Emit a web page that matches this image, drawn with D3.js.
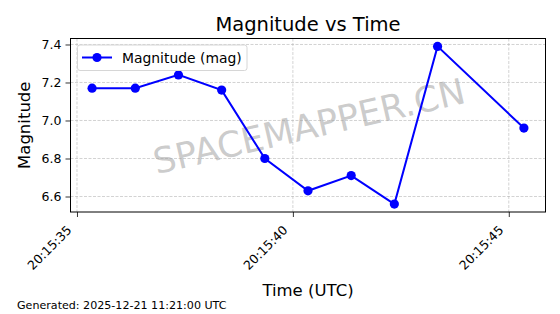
<!DOCTYPE html>
<html>
<head>
<meta charset="utf-8">
<script src="https://cdn.jsdelivr.net/npm/d3@7"></script>
<style>
  html, body { margin: 0; padding: 0; background: #fff; }
  svg { display: block; font-family: "DejaVu Sans", sans-serif; }
</style>
</head>
<body>
<svg id="chart" width="560" height="314"></svg>
<script>
// Data: seconds after 20:15:00 UTC, and magnitude values
const timeSeconds = [35.35, 36.35, 37.35, 38.35, 39.35, 40.35, 41.35, 42.35, 43.35, 45.35];
const magnitudes  = [7.17, 7.17, 7.24, 7.16, 6.80, 6.63, 6.71, 6.56, 7.39, 6.96];
const xTickSeconds = [35, 40, 45];
const xTickLabels = ["20:15:35", "20:15:40", "20:15:45"];
const yTicks = [6.6, 6.8, 7.0, 7.2, 7.4];
const titleText = "Magnitude vs Time";
const xLabelText = "Time (UTC)";
const yLabelText = "Magnitude";
const legendText = "Magnitude (mag)";
const footerText = "Generated: 2025-12-21 11:21:00 UTC";
const watermarkText = "SPACEMAPPER.CN";

const svg = d3.select("#chart");
const L = 70.5, R = 545.5, T = 38.5, B = 212;

const xExt = d3.extent(timeSeconds), xPad = (xExt[1] - xExt[0]) * 0.05;
const yExt = d3.extent(magnitudes), yPad = (yExt[1] - yExt[0]) * 0.05;
const x = d3.scaleLinear().domain([xExt[0] - xPad, xExt[1] + xPad]).range([L, R]);
const y = d3.scaleLinear().domain([yExt[0] - yPad, yExt[1] + yPad]).range([B, T]);

const blue = "#0000ff";

// grid
const grid = svg.append("g");
grid.selectAll("line.gx").data(xTickSeconds).enter().append("line")
  .attr("x1", d => x(d)).attr("x2", d => x(d)).attr("y1", T).attr("y2", B)
  .attr("stroke", "#b0b0b0").attr("stroke-opacity", 0.7).attr("stroke-width", 0.8)
  .attr("stroke-dasharray", "3,1.5");
grid.selectAll("line.gy").data(yTicks).enter().append("line")
  .attr("x1", L).attr("x2", R).attr("y1", d => y(d)).attr("y2", d => y(d))
  .attr("stroke", "#b0b0b0").attr("stroke-opacity", 0.7).attr("stroke-width", 0.8)
  .attr("stroke-dasharray", "3,1.5");

// watermark
svg.append("text")
  .attr("transform", `translate(${(L + R) / 2 + 1},${(T + B) / 2 + 1}) rotate(-13)`)
  .attr("text-anchor", "middle").attr("dominant-baseline", "central")
  .attr("font-size", 35.5).attr("fill", "#a0a0a0").attr("fill-opacity", 0.55)
  .text(watermarkText);

// line + markers
const pts = timeSeconds.map((t, i) => [t, magnitudes[i]]);
svg.append("path").datum(pts)
  .attr("d", d3.line().x(d => x(d[0])).y(d => y(d[1])))
  .attr("fill", "none").attr("stroke", blue).attr("stroke-width", 2);
svg.selectAll("circle.pt").data(pts).enter().append("circle")
  .attr("cx", d => x(d[0])).attr("cy", d => y(d[1])).attr("r", 4.6)
  .attr("fill", blue);

// axes
const xAxis = d3.axisBottom(x).tickValues(xTickSeconds)
  .tickFormat((d, i) => xTickLabels[i]).tickSizeOuter(0).tickSize(5).tickPadding(4);
const gx = svg.append("g").attr("transform", `translate(0,${B})`).call(xAxis);
gx.select(".domain").remove();
gx.selectAll(".tick line").attr("stroke", "#000").attr("stroke-width", 0.8);
gx.selectAll(".tick text")
  .attr("font-size", 12.5).attr("font-family", "DejaVu Sans").attr("fill", "#000")
  .attr("text-anchor", "end").attr("dy", null).attr("y", 0).attr("x", 0)
  .attr("transform", "translate(-5,19) rotate(-45)");

const yAxis = d3.axisLeft(y).tickValues(yTicks).tickFormat(d3.format(".1f"))
  .tickSizeOuter(0).tickSize(5).tickPadding(4);
const gy = svg.append("g").attr("transform", `translate(${L},0)`).call(yAxis);
gy.select(".domain").remove();
gy.selectAll(".tick line").attr("stroke", "#000").attr("stroke-width", 0.8);
gy.selectAll(".tick text").attr("font-size", 12.5).attr("font-family", "DejaVu Sans").attr("fill", "#000");

// frame
svg.append("rect").attr("x", L).attr("y", T).attr("width", R - L).attr("height", B - T)
  .attr("fill", "none").attr("stroke", "#000").attr("stroke-width", 1);

// legend
const lg = svg.append("g");
lg.append("rect").attr("x", 77.5).attr("y", 45).attr("width", 169.5).attr("height", 25.5)
  .attr("rx", 2.5).attr("fill", "#fff").attr("fill-opacity", 0.8)
  .attr("stroke", "#d6d6d6").attr("stroke-width", 1);
lg.append("line").attr("x1", 82).attr("x2", 112).attr("y1", 57.5).attr("y2", 57.5)
  .attr("stroke", blue).attr("stroke-width", 2);
lg.append("circle").attr("cx", 97).attr("cy", 57.5).attr("r", 4.6).attr("fill", blue);
lg.append("text").attr("x", 122).attr("y", 57.5).attr("dominant-baseline", "central")
  .attr("font-size", 13.9).attr("fill", "#000").text(legendText);

// titles
svg.append("text").attr("x", (L + R) / 2).attr("y", 30.5).attr("text-anchor", "middle")
  .attr("font-size", 19.5).attr("fill", "#000").text(titleText);
svg.append("text").attr("x", (L + R) / 2).attr("y", 296).attr("text-anchor", "middle")
  .attr("font-size", 16.5).attr("fill", "#000").text(xLabelText);
svg.append("text").attr("transform", `translate(30,${(T + B) / 2}) rotate(-90)`)
  .attr("text-anchor", "middle").attr("font-size", 16.5).attr("fill", "#000").text(yLabelText);
svg.append("text").attr("x", 17).attr("y", 308.5)
  .attr("font-size", 11.1).attr("fill", "#000").text(footerText);
</script>
</body>
</html>
